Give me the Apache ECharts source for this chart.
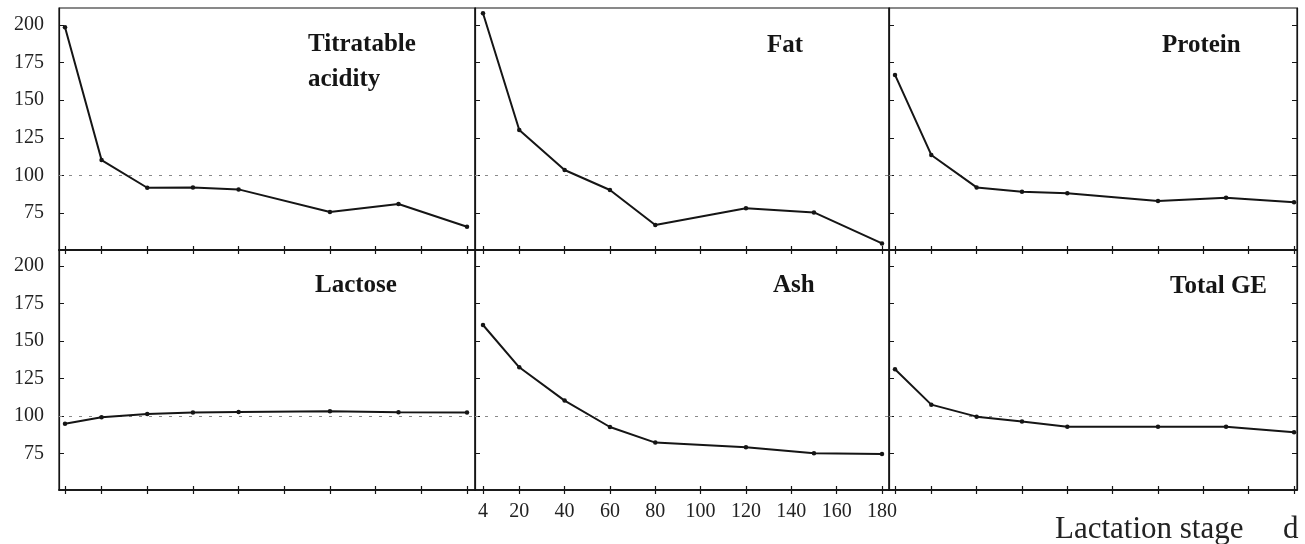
<!DOCTYPE html>
<html><head><meta charset="utf-8">
<script src="https://cdn.jsdelivr.net/npm/echarts@6/dist/echarts.min.js"></script>
<style>html,body{margin:0;padding:0;background:#fff}#c{width:1305px;height:544px}</style>
</head><body><div id="c"></div>
<script>
// ---- data ----
const days = [4, 20, 40, 60, 80, 120, 150, 180];
const xTickValues = [4, 20, 40, 60, 80, 100, 120, 140, 160, 180];
const yTickValues = [75, 100, 125, 150, 175, 200];
const titratableAcidity = [198.5, 110.2, 91.8, 92, 90.7, 75.7, 81, 65.9];
const fat = [207.8, 130.2, 103.6, 90.3, 67, 78.1, 75.4, 54.8];
const protein = [166.8, 113.6, 92, 89.2, 88.1, 83, 85.2, 82.1];
const lactose = [94.6, 99, 101.2, 102.1, 102.5, 103, 102.3, 102.1];
const ash = [160.5, 132.3, 110.1, 92.5, 82.1, 79, 75, 74.5];
const totalGE = [131, 107.4, 99.4, 96.1, 92.7, 92.7, 92.7, 89];
const panelTitles = ['Titratable\nacidity', 'Fat', 'Protein', 'Lactose', 'Ash', 'Total GE'];
const referenceLevel = 100;
const xAxisTitle = 'Lactation stage';
const xAxisUnit = 'd';

// ---- layout ----
const panelSeries = [titratableAcidity, fat, protein, lactose, ash, totalGE];
const cols = [{left: 59, width: 416, min: 1.37, max: 183.5},
              {left: 475, width: 414, min: 0.47, max: 183.1},
              {left: 889, width: 408, min: 1.35, max: 181.3}];
const rows = [{top: 8, height: 242, min: 50.4, max: 211.3},
              {top: 250, height: 240, min: 50.5, max: 210.5}];
const serif = '"Liberation Serif", "Times New Roman", serif';
const ink = '#151515';

const grid = [], xAxis = [], yAxis = [], series = [];
panelSeries.forEach((vals, i) => {
  const r = Math.floor(i / 3), c = i % 3;
  const col = cols[c], row = rows[r];
  grid.push({left: col.left, top: row.top, width: col.width, height: row.height,
    show: true, borderColor: ink, borderWidth: 1.2, backgroundColor: 'transparent'});
  const baseX = {type: 'value', gridIndex: i, min: col.min, max: col.max,
    splitLine: {show: false},
    axisLine: {show: true, onZero: false, lineStyle: {color: ink, width: 1.5}}};
  const xi = xAxis.length;
  xAxis.push(Object.assign({}, baseX, {position: 'bottom',
    axisTick: {show: true, inside: true, length: 4, customValues: xTickValues, lineStyle: {color: ink, width: 1.2}},
    axisLabel: {show: r === 1 && c === 1, customValues: xTickValues, fontFamily: serif, fontSize: 20, color: '#222', margin: 12}}));
  if (r === 1) {
    xAxis.push(Object.assign({}, baseX, {position: 'top',
      axisTick: {show: true, inside: true, length: 4, customValues: xTickValues, lineStyle: {color: ink, width: 1.2}},
      axisLabel: {show: false}}));
    xAxis.push(Object.assign({}, baseX, {position: 'bottom',
      axisTick: {show: true, inside: false, length: 4, customValues: xTickValues, lineStyle: {color: ink, width: 1.2}},
      axisLabel: {show: false}}));
  }
  const baseY = {type: 'value', gridIndex: i, min: row.min, max: row.max,
    splitLine: {show: false},
    axisLine: {show: true, onZero: false, lineStyle: {color: ink, width: 1.2}}};
  const yi = yAxis.length;
  yAxis.push(Object.assign({}, baseY, {position: 'left',
    axisTick: {show: true, inside: true, length: 5, customValues: yTickValues, lineStyle: {color: ink}},
    axisLabel: {show: c === 0, customValues: yTickValues, fontFamily: serif, fontSize: 20, color: '#222', margin: 15}}));
  if (c === 2) {
    yAxis.push(Object.assign({}, baseY, {position: 'right',
      axisTick: {show: true, inside: true, length: 5, customValues: yTickValues, lineStyle: {color: ink}},
      axisLabel: {show: false}}));
  }
  series.push({type: 'line', xAxisIndex: xi, yAxisIndex: yi,
    data: days.map((d, k) => [d, vals[k]]),
    symbol: 'circle', symbolSize: 4.5, showSymbol: true,
    lineStyle: {color: ink, width: 2}, itemStyle: {color: ink},
    z: 3,
    markLine: {silent: true, symbol: 'none', label: {show: false}, z: 1,
      lineStyle: {type: [3, 7], color: '#8a8a8a', width: 1},
      data: [{yAxis: referenceLevel}]}});
});

const titlePos = [[308, 62.5], [767, 46], [1162, 46], [315, 285.5], [773, 285.5], [1170, 286.5]];
const graphic = panelTitles.map((t, i) => ({type: 'text', x: titlePos[i][0], y: titlePos[i][1], z: 10,
  style: {text: t, font: 'bold 25px ' + serif, fill: ink, align: 'left', verticalAlign: 'middle', lineHeight: 35}}));
graphic.push({type: 'text', x: 1055, y: 530, z: 10,
  style: {text: xAxisTitle, font: '31px ' + serif, fill: '#222', align: 'left', verticalAlign: 'middle'}});
graphic.push({type: 'text', x: 1283, y: 530, z: 10,
  style: {text: xAxisUnit, font: '31px ' + serif, fill: '#222', align: 'left', verticalAlign: 'middle'}});

const chart = echarts.init(document.getElementById('c'), null, {renderer: 'canvas'});
chart.setOption({animation: false, backgroundColor: '#fff', grid, xAxis, yAxis, series, graphic});
</script></body></html>
